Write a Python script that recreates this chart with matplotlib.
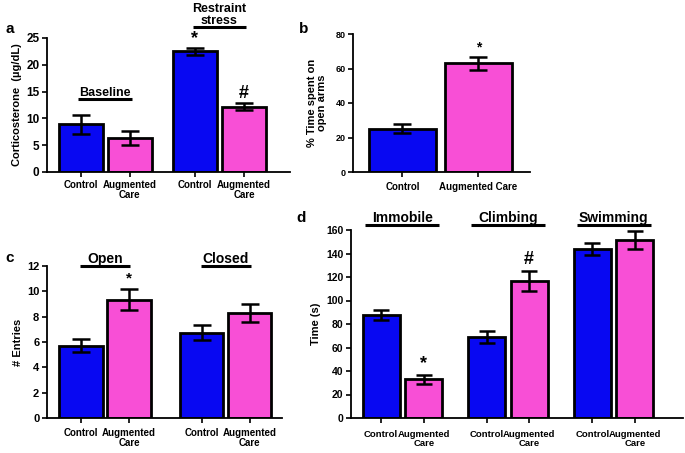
import matplotlib
matplotlib.use('Agg')
import matplotlib.pyplot as plt
import numpy as np

plt.rcParams['font.family'] = ['Liberation Sans', 'DejaVu Sans']
plt.rcParams['font.weight'] = 'bold'
plt.rcParams['axes.labelweight'] = 'bold'

BLUE = '#0808f2'
PINK = '#f84fd6'

# panel a: corticosterone
a_means = [8.9, 6.3, 22.5, 12.2]
a_errs = [1.8, 1.35, 0.65, 0.7]
a_marks = ['', '', '*', '#']

# panel b: % time on open arms
b_labels = ['Control', 'Augmented Care']
b_means = [25.2, 63.0]
b_errs = [2.4, 3.7]
b_marks = ['', '*']

# panel c: entries
c_groups = ['Open', 'Closed']
c_means = [5.7, 9.35, 6.75, 8.3]
c_errs = [0.5, 0.85, 0.6, 0.7]
c_marks = ['', '*', '', '']

# panel d: forced swim
d_groups = ['Immobile', 'Climbing', 'Swimming']
d_means = [88.0, 33.0, 69.0, 116.5, 143.8, 151.3]
d_errs = [4.3, 4.0, 5.0, 8.8, 4.8, 7.6]
d_marks = ['', '*', '', '#', '', '']

pair_labels = ['Control', 'Augmented\nCare']

W, H = 685, 453
fig = plt.figure(figsize=(6.85, 4.53), dpi=100)

def box(l, r, b, t):
    return [l / W, 1 - b / H, (r - l) / W, (b - t) / H]

def style(ax, ysize, xpad=2):
    for s in ['top', 'right']:
        ax.spines[s].set_visible(False)
    for s in ['left', 'bottom']:
        ax.spines[s].set_linewidth(1.3)
    ax.tick_params(width=1.2, length=3.5, pad=2)
    ax.tick_params(axis='x', pad=xpad)
    ax.tick_params(axis='y', labelsize=ysize)
    plt.setp(ax.get_yticklabels(), fontweight='bold')
    plt.setp(ax.get_xticklabels(), fontweight='bold')

def bars(ax, x, means, errs, marks, width, cap, off, fs=12):
    colors = [BLUE, PINK] * (len(means) // 2)
    ax.bar(x, means, width, color=colors, edgecolor='black', linewidth=2, zorder=2)
    ax.errorbar(x, means, yerr=errs, fmt='none', ecolor='black', elinewidth=1.8,
                capsize=cap, capthick=1.8, zorder=3)
    for xi, m, e, s in zip(x, means, errs, marks):
        if s:
            ax.text(xi, m + e + off, s, ha='center', va='bottom', fontsize=fs,
                    fontweight='bold')

def group_lines(ax, centers, names, y, half, fs):
    for c, n in zip(centers, names):
        ax.plot([c - half, c + half], [y, y], color='black', lw=2.2,
                clip_on=False, solid_capstyle='butt')
        ax.text(c, y, n, ha='center', va='bottom', fontsize=fs,
                fontweight='bold', linespacing=1.0)

# ---- a ----
ax = fig.add_axes(box(47, 290, 172, 38))
xa = np.array([0, 1, 2.33, 3.33])
bars(ax, xa, a_means, a_errs, a_marks, 0.9, 6.5, 0.2, fs=13)
ax.set_xlim(-0.69, 4.27)
ax.set_ylim(0, 25)
ax.set_yticks([0, 5, 10, 15, 20, 25])
ax.set_xticks(xa)
ax.set_xticklabels(pair_labels * 2, fontsize=7, linespacing=1.0)
ax.set_ylabel('Corticosterone  (\u00b5g/dL)', fontsize=8, labelpad=3)
style(ax, 8.5)
group_lines(ax, [0.5], ['Baseline'], 13.7, 0.55, 9)
group_lines(ax, [2.83], ['Restraint\nstress'], 27.0, 0.55, 9)
fig.text(5 / W, 1 - 33 / H, 'a', fontsize=11, fontweight='bold')

# ---- b ----
ax = fig.add_axes(box(353, 530, 172, 34))
xb = np.array([0, 1])
bars(ax, xb, b_means, b_errs, b_marks, 0.88, 6.5, 1.5, fs=10)
ax.set_xlim(-0.65, 1.68)
ax.set_ylim(0, 80)
ax.set_yticks([0, 20, 40, 60, 80])
ax.set_xticks(xb)
ax.set_xticklabels(b_labels, fontsize=7)
ax.set_ylabel('% Time spent on\nopen arms', fontsize=8, labelpad=6,
              linespacing=1.0)
style(ax, 6.5, xpad=4)
fig.text(299 / W, 1 - 33 / H, 'b', fontsize=11, fontweight='bold')

# ---- c ----
ax = fig.add_axes(box(47, 282, 418, 266))
xc = np.array([0, 1, 2.52, 3.52])
bars(ax, xc, c_means, c_errs, c_marks, 0.9, 6.5, 0.25, fs=11)
ax.set_xlim(-0.71, 4.19)
ax.set_ylim(0, 12)
ax.set_yticks([0, 2, 4, 6, 8, 10, 12])
ax.set_xticks(xc)
ax.set_xticklabels(pair_labels * 2, fontsize=7, linespacing=1.0)
ax.set_ylabel('# Entries', fontsize=8, labelpad=3)
style(ax, 8, xpad=4)
group_lines(ax, [0.5, 3.02], c_groups, 12.0, 0.52, 10)
fig.text(5 / W, 1 - 262 / H, 'c', fontsize=11, fontweight='bold')

# ---- d ----
ax = fig.add_axes(box(351, 683, 418, 230))
xd = np.array([0, 1, 2.48, 3.48, 4.97, 5.97])
bars(ax, xd, d_means, d_errs, d_marks, 0.87, 5.5, 2, fs=13)
ax.set_xlim(-0.71, 7.1)
ax.set_ylim(0, 160)
ax.set_yticks(np.arange(0, 161, 20))
ax.set_xticks(xd)
ax.set_xticklabels(pair_labels * 3, fontsize=6.8, linespacing=1.0)
ax.set_ylabel('Time (s)', fontsize=8, labelpad=4)
style(ax, 7.5, xpad=5)
group_lines(ax, [0.5, 2.98, 5.47], d_groups, 164, 0.87, 10)
fig.text(296 / W, 1 - 222 / H, 'd', fontsize=11, fontweight='bold')

fig.savefig('out.png', dpi=100, facecolor='white')
